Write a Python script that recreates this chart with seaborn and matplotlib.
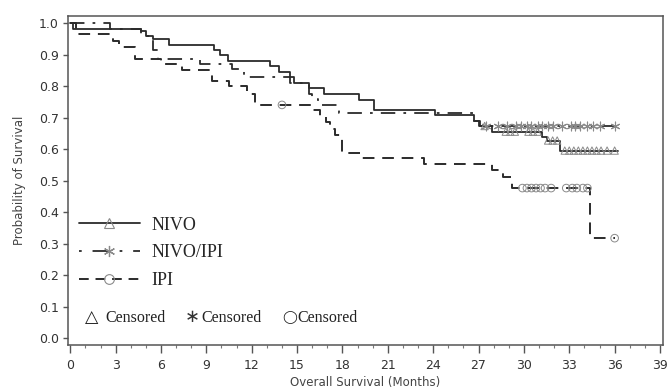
import matplotlib
matplotlib.use('Agg')
import matplotlib.pyplot as plt
from matplotlib.lines import Line2D
import seaborn as sns

# Kaplan-Meier step values (time in months, survival after the event)
nivo_t = [0, 0.2, 4.7, 5.0, 5.45, 6.5, 9.5, 9.9, 10.4, 13.2, 13.8, 14.5, 14.8, 15.8, 16.8,
          19.1, 20.1, 24.1, 26.7, 27.0, 27.9, 31.2, 31.5, 32.4, 36.2]
nivo_s = [1.0, 0.982, 0.975, 0.959, 0.949, 0.931, 0.915, 0.897, 0.879, 0.862, 0.845, 0.828,
          0.81, 0.794, 0.776, 0.757, 0.724, 0.707, 0.69, 0.673, 0.655, 0.637, 0.627, 0.595, 0.595]
nivo_cens_t = [27.4, 28.8, 29.1, 29.4, 30.3, 30.6, 30.9, 31.6, 31.9, 32.2,
               32.7, 33.0, 33.3, 33.6, 33.9, 34.2, 34.5, 34.8, 35.1, 35.5, 36.0]
nivo_cens_s = [0.673, 0.655, 0.655, 0.655, 0.655, 0.655, 0.655, 0.627, 0.627, 0.627,
               0.595, 0.595, 0.595, 0.595, 0.595, 0.595, 0.595, 0.595, 0.595, 0.595, 0.595]

combo_t = [0, 2.6, 4.7, 5.5, 5.8, 8.6, 10.7, 11.5, 14.5, 15.8, 16.0, 16.4, 17.8, 26.7, 27.1, 36.1]
combo_s = [1.0, 0.982, 0.959, 0.914, 0.887, 0.87, 0.853, 0.828, 0.81, 0.775, 0.758, 0.741,
           0.715, 0.69, 0.673, 0.673]
combo_cens_t = [27.5, 28.3, 28.9, 29.5, 29.8, 30.2, 30.5, 30.9, 31.2, 31.6, 31.9, 32.5,
                33.1, 33.4, 33.7, 34.2, 34.6, 35.0, 36.0]
combo_cens_s = [0.673] * len(combo_cens_t)

ipi_t = [0, 0.35, 2.8, 3.2, 4.3, 6.0, 7.4, 9.4, 10.5, 11.7, 12.2, 16.0, 16.5, 16.9, 17.2,
         17.5, 18.0, 19.3, 23.4, 27.9, 28.6, 29.2, 34.4, 36.0]
ipi_s = [1.0, 0.965, 0.944, 0.924, 0.887, 0.87, 0.851, 0.816, 0.80, 0.776, 0.74, 0.725, 0.705,
         0.685, 0.665, 0.644, 0.587, 0.571, 0.552, 0.533, 0.511, 0.476, 0.317, 0.317]
ipi_cens_t = [14.0, 29.9, 30.2, 30.5, 30.8, 31.1, 31.4, 31.8, 32.8, 33.2, 33.5, 33.9, 34.2, 36.0]
ipi_cens_s = [0.74, 0.476, 0.476, 0.476, 0.476, 0.476, 0.476, 0.476, 0.476, 0.476, 0.476,
              0.476, 0.476, 0.317]

x_ticks = list(range(0, 40, 3))
y_ticks = [i / 10 for i in range(11)]

line_col = '#2b2b2b'
mark_col = '#8a8a8a'
dash_ipi = (0, (6, 4))
dash_combo = (0, (8, 4.5, 1.5, 4.5))

sns.set_style('ticks')
plt.rcParams['font.family'] = ['DejaVu Sans']

fig, ax = plt.subplots(figsize=(6.7, 3.92), dpi=100)
fig.subplots_adjust(left=0.1015, right=0.9896, top=0.959, bottom=0.12)

# survival curves
sns.lineplot(x=nivo_t, y=nivo_s, drawstyle='steps-post', estimator=None, sort=False,
             color=line_col, linewidth=1.3, ax=ax)
sns.lineplot(x=combo_t, y=combo_s, drawstyle='steps-post', estimator=None, sort=False,
             color=line_col, linewidth=1.3, linestyle=dash_combo, ax=ax)
sns.lineplot(x=ipi_t, y=ipi_s, drawstyle='steps-post', estimator=None, sort=False,
             color=line_col, linewidth=1.4, linestyle=dash_ipi, ax=ax)

# censored marks
sns.scatterplot(x=nivo_cens_t, y=nivo_cens_s, marker='^', s=28, facecolor='none',
                edgecolor=mark_col, linewidth=0.7, ax=ax, zorder=3)
sns.scatterplot(x=combo_cens_t, y=combo_cens_s, marker=(6, 2, 0), s=40,
                color=mark_col, linewidth=0.8, ax=ax, zorder=3)
sns.scatterplot(x=ipi_cens_t, y=ipi_cens_s, marker='o', s=30, facecolor='none',
                edgecolor=mark_col, linewidth=0.7, ax=ax, zorder=3)

# axes
ax.set_xlim(-0.15, 39.2)
ax.set_ylim(-0.022, 1.022)
ax.set_xticks(x_ticks)
ax.set_xticks(range(0, 40), minor=True)
ax.set_yticks(y_ticks)
ax.set_yticklabels([f'{v:.1f}' for v in y_ticks])
ax.tick_params(axis='x', which='major', length=6, width=1, color='#555', labelsize=9,
               labelcolor='#333', pad=4)
ax.tick_params(axis='x', which='minor', length=2.5, width=0.8, color='#777')
ax.tick_params(axis='y', which='major', length=3.5, width=1, color='#555', labelsize=9,
               labelcolor='#333', pad=3)
for side in ['top', 'right', 'bottom', 'left']:
    ax.spines[side].set_visible(True)
    ax.spines[side].set_color('#555')
    ax.spines[side].set_linewidth(1.1)
ax.set_xlabel('Overall Survival (Months)', fontsize=8.5, color='#444', labelpad=3)
ax.set_ylabel('Probability of Survival', fontsize=8.5, color='#444', labelpad=9)

# legend
handles = [
    Line2D([], [], color=line_col, lw=1.3, ls='-', marker='^', ms=7,
           mfc='none', mec=mark_col, mew=0.8),
    Line2D([], [], color=line_col, lw=1.3, ls=(0, (1.5, 6, 9, 6)), marker=(6, 2, 0), ms=8,
           mec=mark_col, mew=0.9),
    Line2D([], [], color=line_col, lw=1.4, ls=(0, (5, 3.5)), marker='o', ms=7,
           mfc='none', mec=mark_col, mew=0.8),
]
ax.legend(handles, ['NIVO', 'NIVO/IPI', 'IPI'], loc='center left',
          bbox_to_anchor=(0.018, 0.28), frameon=False, borderpad=0, borderaxespad=0,
          handlelength=3.4, handletextpad=0.65, labelspacing=0.6, numpoints=1,
          prop={'family': ['Liberation Serif', 'DejaVu Serif'], 'size': 13})

# censored key row
serif = ['Liberation Serif', 'DejaVu Sans']
cens_y = 0.064
ax.text(0.95, cens_y, '△', family=serif, fontsize=12.5, va='center', color='#222')
ax.text(2.3, cens_y, 'Censored', family=serif, fontsize=11.5, va='center', color='#222')
ax.text(7.55, cens_y, '∗', family=serif, fontsize=13, va='center', color='#333')
ax.text(8.7, cens_y, 'Censored', family=serif, fontsize=11.5, va='center', color='#222')
ax.text(14.05, cens_y, '◯', family=serif, fontsize=9.5, va='center', color='#222')
ax.text(15.05, cens_y, 'Censored', family=serif, fontsize=11.5, va='center', color='#222')

fig.savefig('out.png', dpi=100)
